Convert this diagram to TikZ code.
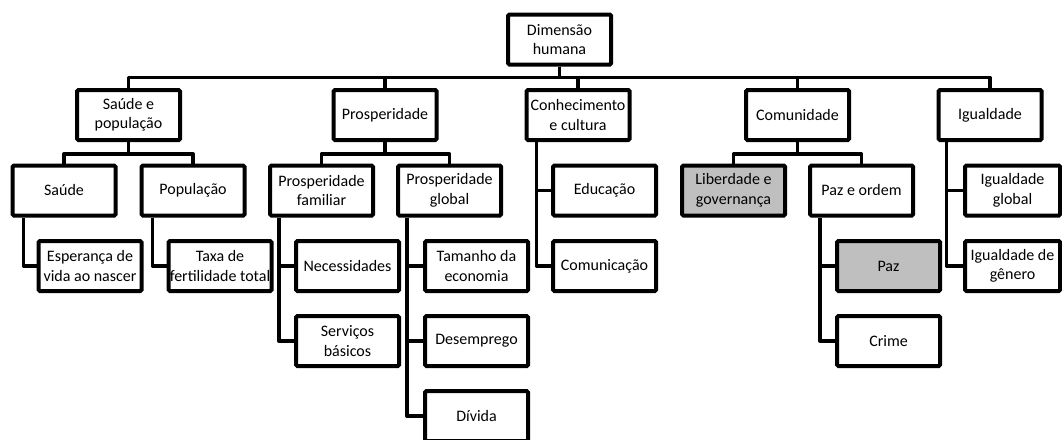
\documentclass[tikz,border=0pt]{standalone}
\usepackage{fontspec}
\setmainfont{Carlito}
\usetikzlibrary{calc}
\definecolor{boxgray}{RGB}{191,191,191}
\begin{document}
\begin{tikzpicture}[x=0.75pt,y=-0.75pt,
  box/.style={draw=black, line width=3pt, fill=white, minimum width=77.25pt,
    minimum height=37.5pt, inner sep=0pt, align=center,
    font=\fontsize{12}{14.6}\selectfont, rounded corners=1pt},
  grayfill/.style={fill=boxgray},
  narrowbox/.style={minimum width=71.25pt},
  link/.style={draw=black, line width=2.5pt, line join=round}]
\useasboundingbox (0,0) rectangle (1062,439);
\clip (0,0) rectangle (1062,439);
\fill[white] (0,0) rectangle (1062,439);
% level 0
\node[box] (root) at (559.5,39.5) {Dimensão\\humana};
% level 1
\node[box] (sp) at (128.5,115) {Saúde e\\população};
\node[box] (pr) at (385,115) {Prosperidade};
\node[box] (cc) at (578,115) {Conhecimento\\e cultura};
\node[box] (co) at (797.5,115) {Comunidade};
\node[box] (ig) at (990,115) {Igualdade};
% level 2
\node[box] (sa) at (64,190.5) {Saúde};
\node[box] (po) at (193,190.5) {População};
\node[box] (pf) at (321.5,190.5) {Prosperidade\\familiar};
\node[box] (pg) at (449.5,190.5) {Prosperidade\\global};
\node[box] (ed) at (604.5,190.5) {Educação};
\node[box,grayfill] (lg) at (733.5,190.5) {Liberdade e\\governança};
\node[box] (pe) at (861.5,190.5) {Paz e ordem};
\node[box,narrowbox] (igg) at (1012.5,190.5) {Igualdade\\global};
% level 3
\node[box] (es) at (90,266) {Esperança de\\vida ao nascer};
\node[box] (tx) at (220,266) {Taxa de\\fertilidade total};
\node[box] (ne) at (347.5,266) {Necessidades};
\node[box] (ta) at (476.5,266) {Tamanho da\\economia};
\node[box] (cm) at (604.5,266) {Comunicação};
\node[box,grayfill] (pz) at (888.5,266) {Paz};
\node[box,narrowbox] (igd) at (1012.5,266) {Igualdade de\\gênero};
% level 4
\node[box] (sb) at (347.5,341) {Serviços\\básicos};
\node[box] (de) at (476.5,341) {Desemprego};
\node[box] (cr) at (888.5,341) {Crime};
% level 5
\node[box] (dv) at (476.5,416) {Dívida};
% connectors
\foreach \c in {sp,pr,cc,co,ig}
  \draw[link] (root.south) -- ++(0,11) -| (\c.north);
\foreach \p/\c in {sp/sa,sp/po,pr/pf,pr/pg,co/lg,co/pe}
  \draw[link] (\p.south) -- ++(0,12) -| (\c.north);
\foreach \p/\c/\o in {sa/es/13,po/tx/13,pf/ne/11,pf/sb/11,pg/ta/11,pg/de/11,pg/dv/11,cc/ed/12,cc/cm/12,pe/pz/12,pe/cr/12,ig/igg/10,ig/igd/10}
  \draw[link] ($(\p.south west)+(\o,0)$) |- (\c.west);
\end{tikzpicture}
\end{document}
